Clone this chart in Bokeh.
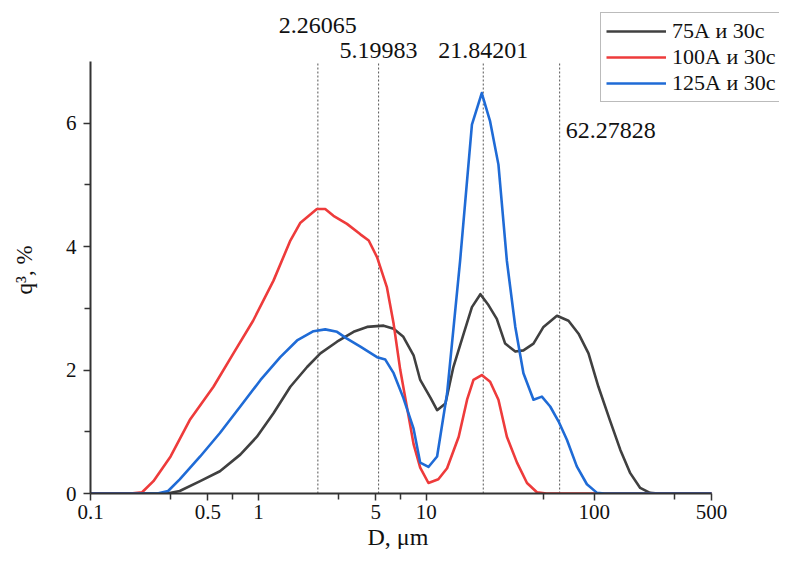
from bokeh.plotting import figure
from bokeh.models import (Range1d, FixedTicker, Legend, LegendItem, Label, Title)
from bokeh.embed import file_html
from bokeh.resources import INLINE

# ---------------- data ----------------
d_75 = [0.1, 0.286, 0.34, 0.45, 0.59, 0.78, 0.98, 1.23, 1.55, 1.95, 2.34, 2.94, 3.69, 4.44,
        5.57, 6.39, 7.3, 8.4, 9.2, 10.6, 11.6, 13.0, 14.5, 16.7, 18.7, 21.0, 23.5, 26.3,
        29.5, 33.9, 37.9, 43.5, 49.9, 60.0, 70.3, 80.7, 92.5, 106, 124, 143, 164, 188,
        215, 240, 500]
q_75 = [0, 0, 0.04, 0.2, 0.36, 0.63, 0.92, 1.3, 1.73, 2.05, 2.27, 2.46, 2.62, 2.7,
        2.72, 2.67, 2.54, 2.24, 1.84, 1.55, 1.35, 1.46, 2.05, 2.59, 3.02, 3.23, 3.05, 2.83,
        2.43, 2.3, 2.32, 2.43, 2.7, 2.88, 2.8, 2.59, 2.27, 1.73, 1.19, 0.71, 0.33, 0.09,
        0.01, 0, 0]

d_100 = [0.1, 0.173, 0.203, 0.237, 0.30, 0.39, 0.54, 0.71, 0.93, 1.23, 1.55, 1.78, 2.23,
         2.5, 2.8, 3.37, 4.05, 4.54, 5.09, 5.83, 6.39, 7.0, 7.67, 8.4, 9.2, 10.3, 11.8,
         13.3, 15.6, 17.5, 19.1, 21.4, 24.0, 26.9, 30.2, 34.7, 39.8, 45.6, 52, 500]
q_100 = [0, 0, 0.02, 0.2, 0.6, 1.19, 1.73, 2.27, 2.8, 3.45, 4.1, 4.39, 4.61,
         4.61, 4.5, 4.37, 4.2, 4.1, 3.83, 3.34, 2.75, 2.0, 1.4, 0.8, 0.42, 0.17, 0.23,
         0.41, 0.92, 1.52, 1.84, 1.92, 1.81, 1.52, 0.92, 0.5, 0.17, 0.02, 0, 0]

d_125 = [0.1, 0.25, 0.29, 0.34, 0.45, 0.59, 0.78, 1.03, 1.35, 1.7, 2.13, 2.5, 2.94, 3.37,
         4.05, 5.09, 5.7, 6.39, 7.3, 8.4, 9.2, 10.3, 11.6, 13.3, 15.9, 18.7, 21.4, 24.0,
         26.9, 30.2, 33.9, 37.9, 43.5, 48.8, 54.7, 61.3, 68.8, 78.8, 90.5, 104, 115, 500]
q_125 = [0, 0, 0.04, 0.23, 0.6, 0.98, 1.41, 1.84, 2.21, 2.48, 2.63, 2.66, 2.62, 2.51,
         2.38, 2.21, 2.17, 1.95, 1.55, 1.05, 0.5, 0.43, 0.6, 1.62, 3.77, 5.98, 6.49, 6.03,
         5.33, 3.77, 2.7, 1.95, 1.52, 1.57, 1.41, 1.17, 0.87, 0.44, 0.15, 0.01, 0, 0]

series_names = ["75А и 30с", "100А и 30с", "125А и 30с"]

peaks = [2.26065, 5.19983, 21.84201, 62.27828]
peak_labels = ["2.26065", "5.19983", "21.84201", "62.27828"]

x_major = [0.1, 0.5, 1, 5, 10, 100, 500]
x_major_labels = ["0.1", "0.5", "1", "5", "10", "100", "500"]
x_minor = [0.3, 0.7, 3, 7, 50, 300]
y_major = [0, 2, 4, 6]
y_minor = [1, 3, 5]

x_title = "D, μm"
y_title = "q³, %"

# ---------------- style ----------------
FONT = "Liberation Serif"
colors = ["#404040", "#ee3b3b", "#1f6bd6"]
AX = "#333333"

# frame reaches the top and right edges so texts there are not clipped;
# the axis lines are limited with bounds
p = figure(width=779, height=549, x_axis_type="log", output_backend="svg",
           toolbar_location=None, x_range=Range1d(0.1, 1270), y_range=Range1d(0, 7.99),
           min_border_left=90, min_border_right=0, min_border_top=0, min_border_bottom=0)
p.outline_line_color = None
p.xgrid.visible = False
p.ygrid.visible = False

# peak marker lines
for xp in peaks:
    p.segment(x0=[xp], y0=[0], x1=[xp], y1=[7], line_color="#555555",
              line_width=1, line_dash="2 2")

renderers = []
for d, q, c in zip([d_75, d_100, d_125], [q_75, q_100, q_125], colors):
    r = p.line(d, q, line_color=c, line_width=2.6, line_join="round")
    renderers.append(r)

# axes
for ax in (p.xaxis[0], p.yaxis[0]):
    ax.axis_line_color = AX
    ax.axis_line_width = 2
    ax.major_tick_line_color = AX
    ax.minor_tick_line_color = AX
    ax.major_tick_line_width = 1.5
    ax.minor_tick_line_width = 1.5
    ax.major_tick_in = 0
    ax.minor_tick_in = 0
    ax.major_tick_out = 7
    ax.minor_tick_out = 6
    ax.major_label_text_font = FONT
    ax.major_label_text_font_size = "21px"
    ax.major_label_text_color = "#111111"

p.xaxis[0].bounds = (x_major[0], x_major[-1])
p.xaxis[0].ticker = FixedTicker(ticks=x_major, minor_ticks=x_minor)
p.xaxis[0].major_label_overrides = {t: s for t, s in zip(x_major, x_major_labels)}
p.xaxis[0].major_label_standoff = 4

p.yaxis[0].bounds = (0, 7)
p.yaxis[0].ticker = FixedTicker(ticks=y_major, minor_ticks=y_minor)
p.yaxis[0].major_label_standoff = 7

# axis titles (as side-panel titles so they can be placed along the axis extent)
p.add_layout(Title(text=x_title, align="left", offset=277, standoff=0,
                   text_font=FONT, text_font_size="24px", text_font_style="normal",
                   text_line_height=1.0, text_color="#111111"), "below")
# blank spacer between the y axis and its title
p.add_layout(Title(text=" ", standoff=22, text_font_size="1px"), "left")
p.add_layout(Title(text=y_title, align="left", offset=199, standoff=0,
                   vertical_align="middle", text_line_height=1.0,
                   text_font=FONT, text_font_size="23px", text_font_style="normal",
                   text_color="#111111"), "left")

# peak labels
label_pos = [(7.585, "center", 0), (7.18, "center", 0), (7.18, "center", 0), (5.89, "left", 6)]
for xp, txt, (yy, al, off) in zip(peaks, peak_labels, label_pos):
    p.add_layout(Label(x=xp, y=yy, text=txt, text_font=FONT, text_font_size="24px",
                       text_align=al, text_baseline="middle", x_offset=off,
                       text_color="#111111"))

legend = Legend(items=[LegendItem(label=n, renderers=[r]) for n, r in zip(series_names, renderers)],
                location=(510, 391), label_text_font=FONT, label_text_font_size="22px",
                label_text_color="#111111", glyph_width=60, glyph_height=24, label_height=24,
                label_standoff=6, padding=5, spacing=0, margin=0,
                border_line_color="#777777", border_line_width=1.2,
                background_fill_color="white", background_fill_alpha=1)
p.add_layout(legend)

open("out.html", "w").write(file_html(p, INLINE))
